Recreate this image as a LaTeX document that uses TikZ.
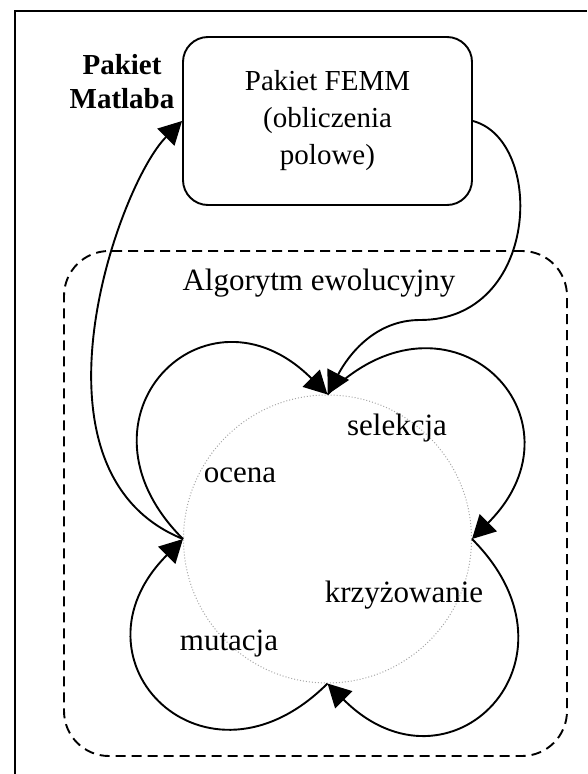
\documentclass[tikz,border=0pt]{standalone}
\usepackage{fontspec}
\setmainfont{Liberation Serif}
\usetikzlibrary{arrows.meta}
\tikzset{
  thickline/.style={line width=1.9pt},
  flow/.style={thickline,-{Triangle[length=23pt,width=24pt]}},
  femmbox/.style={draw,thickline,rounded corners=25pt,minimum width=289pt,minimum height=168pt,
    align=center,inner sep=0pt,font=\fontsize{29}{37}\selectfont},
  stage/.style={anchor=base,inner sep=0pt,font=\fontsize{31}{36}\selectfont},
}

\begin{document}
\begin{tikzpicture}[x=1pt,y=1pt]
  \useasboundingbox (0,0) rectangle (587,-774);
  \draw[line width=1.6pt] (15,-774) -- (15,-11) -- (587,-11);
  \node[femmbox] (femm) at (327.5,-121) {Pakiet FEMM\\(obliczenia\\polowe)};
  \node[align=center,inner sep=0pt,font=\bfseries\fontsize{29}{34}\selectfont] (matlab) at (122,-82) {Pakiet\\Matlaba};
  \node[draw,thickline,dash pattern=on 10pt off 6pt,rounded corners=45pt,
    minimum width=503pt,minimum height=505pt,inner sep=0pt] (evo) at (315.5,-503.5) {};
  \node[stage] (evotitle) at (319,-290) {Algorytm ewolucyjny};
  \node[draw=gray!70,dotted,line width=1pt,circle,minimum size=288pt,inner sep=0pt] (ring) at (327.5,-539) {};
  \node[stage] (sel) at (397,-435) {selekcja};
  \node[stage] (ocena) at (240,-482) {ocena};
  \node[stage] (krzyz) at (404,-602) {krzyżowanie};
  \node[stage] (mut) at (229,-650) {mutacja};
  \coordinate (bend) at (420,-320);
  \foreach \from/\to/\ang in {west/north/135,north/east/45,east/south/-45,south/west/-135}
    \draw[flow] (ring.\from) .. controls +(\ang:172) and +(\ang:172) .. (ring.\to);
  \draw[flow] (ring.west) .. controls +(158:180) and +(225:90) .. (femm.west);
  \draw[flow] (femm.east) .. controls +(-15:75) and +(0:120) .. (bend)
    .. controls +(180:45) and +(62:45) .. (ring.north);
\end{tikzpicture}
\end{document}
